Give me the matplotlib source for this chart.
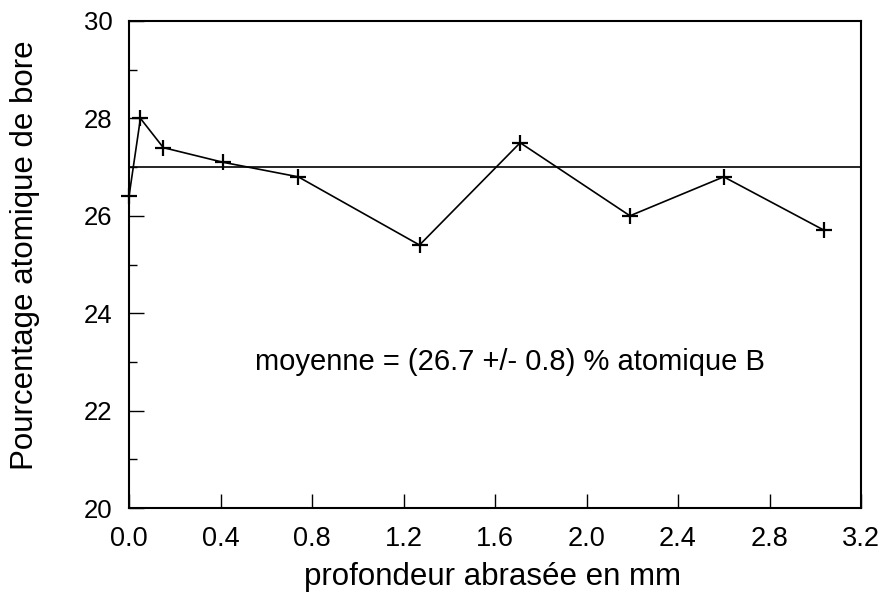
import matplotlib
matplotlib.use("Agg")
import matplotlib.pyplot as plt
from matplotlib.ticker import MultipleLocator

plt.rcParams['font.family'] = ['Liberation Sans', 'DejaVu Sans']

# Data
depth_mm = [0.0, 0.05, 0.15, 0.41, 0.74, 1.27, 1.71, 2.19, 2.60, 3.04]
boron_pct = [26.4, 28.0, 27.4, 27.1, 26.8, 25.4, 27.5, 26.0, 26.8, 25.7]
mean_line_y = 27.0
x_ticks = [0.0, 0.4, 0.8, 1.2, 1.6, 2.0, 2.4, 2.8, 3.2]
x_tick_labels = ["0.0", "0.4", "0.8", "1.2", "1.6", "2.0", "2.4", "2.8", "3.2"]
y_ticks = [20, 22, 24, 26, 28, 30]
annotation = "moyenne = (26.7 +/- 0.8) % atomique B"
xlabel = "profondeur abrasée en mm"
ylabel = "Pourcentage atomique de bore"

fig = plt.figure(figsize=(8.85, 5.94), dpi=100)
ax = fig.add_axes([129/885, 86/594, 732/885, 487/594])

ax.axhline(mean_line_y, color='black', lw=1.2)
ax.plot(depth_mm, boron_pct, color='black', lw=1.2, marker='+',
        markersize=12, markeredgewidth=1.6, clip_on=False, zorder=3)

ax.set_xlim(0, 3.2)
ax.set_ylim(20, 30)
ax.set_xticks(x_ticks)
ax.set_xticklabels(x_tick_labels)
ax.set_yticks(y_ticks)
ax.yaxis.set_minor_locator(MultipleLocator(1))

ax.tick_params(axis='x', which='major', direction='in', length=10, width=1.0,
               labelsize=19.5, pad=13, top=False)
ax.tick_params(axis='y', which='major', direction='in', length=10.5, width=1.0,
               labelsize=18.5, pad=12, right=False)
ax.tick_params(axis='y', which='minor', direction='in', length=5.5, width=1.0,
               right=False)

for s in ax.spines.values():
    s.set_linewidth(1.5)
    s.set_color('black')

ax.set_xlabel(xlabel, fontsize=22.5)
ax.set_ylabel(ylabel, fontsize=22.5)
ax.xaxis.label.set_va('center')
ax.yaxis.label.set_va('center')
ax.xaxis.set_label_coords((493-129)/732, (508-577)/487)
ax.yaxis.set_label_coords((25-129)/732, (508-255)/487)

ax.text(0.55, 23.0, annotation, fontsize=21, va='center', ha='left')

fig.savefig("out.png", dpi=100)
